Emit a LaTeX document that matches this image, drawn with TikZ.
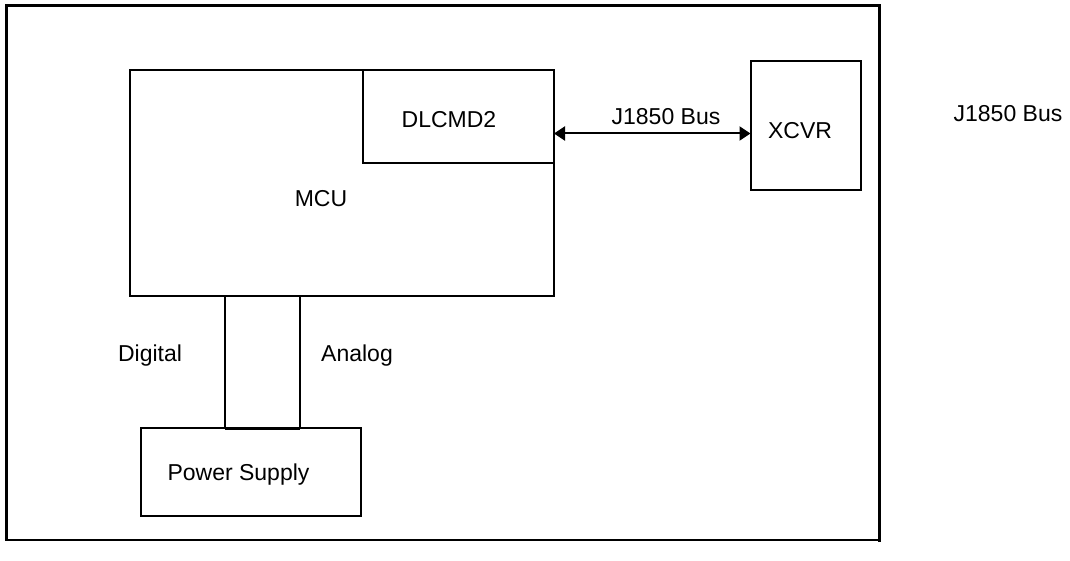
\documentclass[tikz,border=0pt]{standalone}
\usepackage{fontspec}
\setmainfont{Liberation Sans}
\usepackage{tikz}
\usetikzlibrary{arrows.meta,positioning,calc}
\newcommand{\lblfont}{\fontsize{23}{27}\selectfont}

\begin{document}
\begin{tikzpicture}[x=1pt, y=-1pt,
    blk/.style={draw, line width=2pt, inner sep=0pt, outer sep=0pt},
    lbl/.style={font=\lblfont, anchor=base, inner sep=0pt},
    bus/.style={line width=2pt, {Triangle[length=11pt,width=14pt]}-{Triangle[length=11pt,width=14pt]}}]
    \useasboundingbox (0,0) rectangle (1070,561);
    \draw[line width=2.5pt, line cap=rect] (6.5,5.5) -- (879.5,5.5);
    \draw[line width=2.7pt, line cap=rect] (6.5,5.5) -- (6.5,540);
    \draw[line width=3pt, line cap=rect] (879.5,5.5) -- (879.5,540);
    \draw[line width=1.4pt, line cap=rect] (6.5,540) -- (879.5,540);
    \node[blk, minimum width=424, minimum height=226] (mcu) at (342,183) {};
    \node[blk, minimum width=191, minimum height=93] (dlc) at (458.5,116.5) {};
    \node[blk, minimum width=110, minimum height=129] (xcvr) at (805.5,125.5) {};
    \node[blk, minimum width=75, minimum height=132] (gnd) at (262.5,362) {};
    \node[blk, minimum width=220, minimum height=88] (psu) at (251,472) {};
    \draw[line width=3pt] (gnd.south west) -- (gnd.south east);
    \node[lbl] (mcutxt) at (321,206.5) {MCU};
    \node[lbl] (dlctxt) at (449,127.5) {DLCMD2};
    \node[lbl] (xcvrtxt) at (800,139) {XCVR};
    \node[lbl] (psutxt) at (238.5,480) {Power Supply};
    \node[lbl] (dig) at (150,361.5) {Digital};
    \node[lbl] (ana) at (357,361.5) {Analog};
    \node[lbl] (extbus) at (1008,122) {J1850 Bus};
    \coordinate (busL) at ([yshift=-17pt]dlc.east);
    \draw[bus] (busL) -- (busL -| xcvr.west)
      node[lbl, pos=0.57, yshift=8.7pt] (bustxt) {J1850 Bus};
\end{tikzpicture}
\end{document}
